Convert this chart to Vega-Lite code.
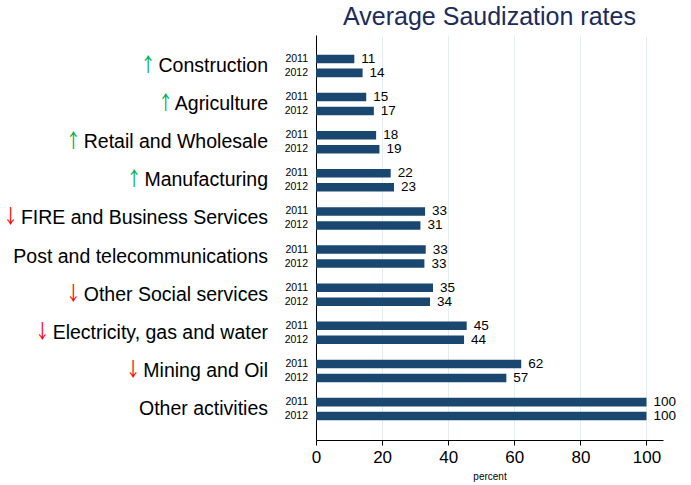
{
  "$schema": "https://vega.github.io/schema/vega-lite/v6.json",
  "width": 347,
  "height": 405,
  "autosize": {"type": "none"},
  "padding": {"left": 316, "top": 35, "right": 28, "bottom": 45},
  "background": "white",
  "title": {
    "text": "Average Saudization rates",
    "fontSize": 25,
    "font": "Liberation Sans",
    "fontWeight": "normal",
    "color": "#1c2b5a",
    "anchor": "middle",
    "offset": 5
  },
  "config": {
    "view": {"stroke": null},
    "font": "Liberation Sans"
  },
  "datasets": {
    "bars": [
      {"category": "Construction", "year": "2011", "value": 11.6, "label": "11"},
      {"category": "Construction", "year": "2012", "value": 14.1, "label": "14"},
      {"category": "Agriculture", "year": "2011", "value": 15.2, "label": "15"},
      {"category": "Agriculture", "year": "2012", "value": 17.5, "label": "17"},
      {"category": "Retail and Wholesale", "year": "2011", "value": 18.2, "label": "18"},
      {"category": "Retail and Wholesale", "year": "2012", "value": 19.2, "label": "19"},
      {"category": "Manufacturing", "year": "2011", "value": 22.6, "label": "22"},
      {"category": "Manufacturing", "year": "2012", "value": 23.6, "label": "23"},
      {"category": "FIRE and Business Services", "year": "2011", "value": 33.0, "label": "33"},
      {"category": "FIRE and Business Services", "year": "2012", "value": 31.6, "label": "31"},
      {"category": "Post and telecommunications", "year": "2011", "value": 33.2, "label": "33"},
      {"category": "Post and telecommunications", "year": "2012", "value": 32.8, "label": "33"},
      {"category": "Other Social services", "year": "2011", "value": 35.4, "label": "35"},
      {"category": "Other Social services", "year": "2012", "value": 34.5, "label": "34"},
      {"category": "Electricity, gas and water", "year": "2011", "value": 45.6, "label": "45"},
      {"category": "Electricity, gas and water", "year": "2012", "value": 44.8, "label": "44"},
      {"category": "Mining and Oil", "year": "2011", "value": 62.1, "label": "62"},
      {"category": "Mining and Oil", "year": "2012", "value": 57.6, "label": "57"},
      {"category": "Other activities", "year": "2011", "value": 100, "label": "100"},
      {"category": "Other activities", "year": "2012", "value": 100, "label": "100"}
    ],
    "cats": [
      {"category": "Construction", "label": "￪ Construction"},
      {"category": "Agriculture", "label": "￪ Agriculture"},
      {"category": "Retail and Wholesale", "label": "￪ Retail and Wholesale"},
      {"category": "Manufacturing", "label": "￪ Manufacturing"},
      {"category": "FIRE and Business Services", "label": "￬ FIRE and Business Services"},
      {"category": "Post and telecommunications", "label": "Post and telecommunications"},
      {"category": "Other Social services", "label": "￬ Other Social services"},
      {"category": "Electricity, gas and water", "label": "￬ Electricity, gas and water"},
      {"category": "Mining and Oil", "label": "￬ Mining and Oil"},
      {"category": "Other activities", "label": "Other activities"}
    ]
  },
  "encoding": {
    "y": {
      "field": "category",
      "type": "nominal",
      "sort": ["Construction", "Agriculture", "Retail and Wholesale", "Manufacturing", "FIRE and Business Services", "Post and telecommunications", "Other Social services", "Electricity, gas and water", "Mining and Oil", "Other activities"],
      "scale": {"paddingInner": 0, "paddingOuter": 0.31},
      "axis": {"title": null, "labels": false, "ticks": false, "grid": false, "domain": true, "domainColor": "black", "domainWidth": 1}
    }
  },
  "layer": [
    {
      "data": {"name": "bars"},
      "mark": {"type": "bar", "color": "#1a476f"},
      "encoding": {
        "x": {
          "field": "value",
          "type": "quantitative",
          "scale": {"domain": [0, 105], "nice": false},
          "axis": {
            "values": [0, 20, 40, 60, 80, 100],
            "grid": true,
            "gridColor": "#e4eef0",
            "gridWidth": 1,
            "domainColor": "black",
            "tickColor": "black",
            "tickSize": 5,
            "labelFontSize": 17,
            "labelColor": "black",
            "labelFlush": false,
            "labelPadding": 4,
            "title": "percent",
            "titleFontSize": 10,
            "titleFontWeight": "normal",
            "titleColor": "black",
            "titlePadding": 6
          }
        },
        "yOffset": {
          "field": "year",
          "type": "nominal",
          "scale": {"paddingInner": 0.39, "paddingOuter": 0.558}
        }
      }
    },
    {
      "data": {"name": "bars"},
      "mark": {"type": "text", "align": "left", "baseline": "middle", "dx": 7, "fontSize": 13.5, "color": "black"},
      "encoding": {
        "x": {"field": "value", "type": "quantitative"},
        "yOffset": {"field": "year", "type": "nominal"},
        "text": {"field": "label"}
      }
    },
    {
      "data": {"name": "bars"},
      "mark": {"type": "text", "align": "right", "baseline": "middle", "dx": -8, "fontSize": 10.5, "color": "black"},
      "encoding": {
        "x": {"datum": 0},
        "yOffset": {"field": "year", "type": "nominal"},
        "text": {"field": "year"}
      }
    },
    {
      "data": {"name": "cats"},
      "mark": {"type": "text", "align": "right", "baseline": "middle", "dx": -48, "fontSize": 19.5, "font": "Liberation Sans, Noto Sans CJK SC"},
      "encoding": {
        "x": {"datum": 0},
        "text": {"field": "label"},
        "color": {
          "condition": [
            {"test": "datum.category === 'Construction'", "value": {"gradient": "linear", "x1": 0, "x2": 1, "y1": 0, "y2": 0, "stops": [{"offset": 0, "color": "#00b050"}, {"offset": 0.1, "color": "#00b050"}, {"offset": 0.1, "color": "black"}, {"offset": 1, "color": "black"}]}},
            {"test": "datum.category === 'Agriculture'", "value": {"gradient": "linear", "x1": 0, "x2": 1, "y1": 0, "y2": 0, "stops": [{"offset": 0, "color": "#00b050"}, {"offset": 0.115, "color": "#00b050"}, {"offset": 0.115, "color": "black"}, {"offset": 1, "color": "black"}]}},
            {"test": "datum.category === 'Retail and Wholesale'", "value": {"gradient": "linear", "x1": 0, "x2": 1, "y1": 0, "y2": 0, "stops": [{"offset": 0, "color": "#00b050"}, {"offset": 0.062, "color": "#00b050"}, {"offset": 0.062, "color": "black"}, {"offset": 1, "color": "black"}]}},
            {"test": "datum.category === 'Manufacturing'", "value": {"gradient": "linear", "x1": 0, "x2": 1, "y1": 0, "y2": 0, "stops": [{"offset": 0, "color": "#00b050"}, {"offset": 0.09, "color": "#00b050"}, {"offset": 0.09, "color": "black"}, {"offset": 1, "color": "black"}]}},
            {"test": "datum.category === 'FIRE and Business Services'", "value": {"gradient": "linear", "x1": 0, "x2": 1, "y1": 0, "y2": 0, "stops": [{"offset": 0, "color": "#ff0000"}, {"offset": 0.0475, "color": "#ff0000"}, {"offset": 0.0475, "color": "black"}, {"offset": 1, "color": "black"}]}},
            {"test": "datum.category === 'Other Social services'", "value": {"gradient": "linear", "x1": 0, "x2": 1, "y1": 0, "y2": 0, "stops": [{"offset": 0, "color": "#ff0000"}, {"offset": 0.062, "color": "#ff0000"}, {"offset": 0.062, "color": "black"}, {"offset": 1, "color": "black"}]}},
            {"test": "datum.category === 'Electricity, gas and water'", "value": {"gradient": "linear", "x1": 0, "x2": 1, "y1": 0, "y2": 0, "stops": [{"offset": 0, "color": "#ff0000"}, {"offset": 0.0537, "color": "#ff0000"}, {"offset": 0.0537, "color": "black"}, {"offset": 1, "color": "black"}]}},
            {"test": "datum.category === 'Mining and Oil'", "value": {"gradient": "linear", "x1": 0, "x2": 1, "y1": 0, "y2": 0, "stops": [{"offset": 0, "color": "#ff0000"}, {"offset": 0.089, "color": "#ff0000"}, {"offset": 0.089, "color": "black"}, {"offset": 1, "color": "black"}]}}
          ],
          "value": "black"
        }
      }
    }
  ]
}
